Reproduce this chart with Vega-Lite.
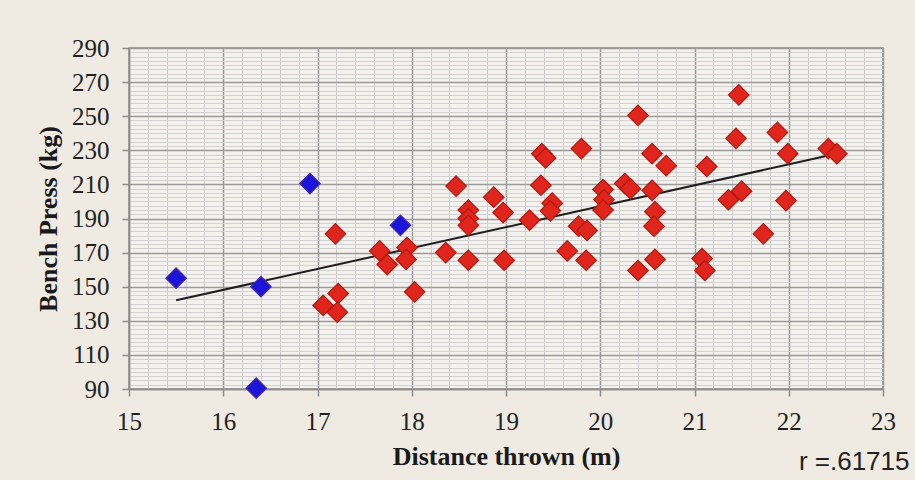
{
  "$schema": "https://vega.github.io/schema/vega-lite/v6.json",
  "width": 754,
  "height": 341,
  "autosize": {"type": "none"},
  "padding": {"left": 129, "top": 48, "right": 32, "bottom": 91},
  "background": "#efebe3",
  "title": {
    "text": "r =.61715",
    "orient": "bottom",
    "anchor": "end",
    "font": "Liberation Sans",
    "fontSize": 26,
    "fontWeight": "normal",
    "color": "#222222",
    "offset": -20,
    "dx": 14
  },
  "datasets": {
    "athletes": [
      {"distance": 15.5, "bench": 155, "group": "blue"},
      {"distance": 16.4, "bench": 150, "group": "blue"},
      {"distance": 16.35, "bench": 90.5, "group": "blue"},
      {"distance": 16.92, "bench": 210.5, "group": "blue"},
      {"distance": 17.88, "bench": 186, "group": "blue"},
      {"distance": 17.19, "bench": 181, "group": "red"},
      {"distance": 17.06, "bench": 139, "group": "red"},
      {"distance": 17.22, "bench": 146, "group": "red"},
      {"distance": 17.21, "bench": 135, "group": "red"},
      {"distance": 17.66, "bench": 171, "group": "red"},
      {"distance": 17.74, "bench": 163, "group": "red"},
      {"distance": 17.95, "bench": 173, "group": "red"},
      {"distance": 17.94, "bench": 166, "group": "red"},
      {"distance": 18.03, "bench": 147, "group": "red"},
      {"distance": 18.36, "bench": 170, "group": "red"},
      {"distance": 18.47, "bench": 209, "group": "red"},
      {"distance": 18.6, "bench": 195, "group": "red"},
      {"distance": 18.6, "bench": 190, "group": "red"},
      {"distance": 18.6, "bench": 186, "group": "red"},
      {"distance": 18.6, "bench": 165.5, "group": "red"},
      {"distance": 18.87, "bench": 202.5, "group": "red"},
      {"distance": 18.97, "bench": 193.5, "group": "red"},
      {"distance": 18.98, "bench": 165.5, "group": "red"},
      {"distance": 19.25, "bench": 189, "group": "red"},
      {"distance": 19.38, "bench": 228, "group": "red"},
      {"distance": 19.42, "bench": 225.5, "group": "red"},
      {"distance": 19.37, "bench": 209.5, "group": "red"},
      {"distance": 19.49, "bench": 199, "group": "red"},
      {"distance": 19.47, "bench": 194.5, "group": "red"},
      {"distance": 19.65, "bench": 171, "group": "red"},
      {"distance": 19.8, "bench": 231, "group": "red"},
      {"distance": 19.77, "bench": 185.5, "group": "red"},
      {"distance": 19.86, "bench": 183, "group": "red"},
      {"distance": 19.85, "bench": 165.5, "group": "red"},
      {"distance": 20.03, "bench": 207, "group": "red"},
      {"distance": 20.04, "bench": 201, "group": "red"},
      {"distance": 20.03, "bench": 195, "group": "red"},
      {"distance": 20.26, "bench": 210.5, "group": "red"},
      {"distance": 20.32, "bench": 207.5, "group": "red"},
      {"distance": 20.4, "bench": 250.5, "group": "red"},
      {"distance": 20.4, "bench": 159.5, "group": "red"},
      {"distance": 20.55, "bench": 228, "group": "red"},
      {"distance": 20.7, "bench": 221, "group": "red"},
      {"distance": 20.55, "bench": 206.5, "group": "red"},
      {"distance": 20.58, "bench": 194, "group": "red"},
      {"distance": 20.57, "bench": 185.5, "group": "red"},
      {"distance": 20.58, "bench": 166, "group": "red"},
      {"distance": 21.08, "bench": 166.5, "group": "red"},
      {"distance": 21.11, "bench": 159.5, "group": "red"},
      {"distance": 21.13, "bench": 220.5, "group": "red"},
      {"distance": 21.36, "bench": 201, "group": "red"},
      {"distance": 21.5, "bench": 206, "group": "red"},
      {"distance": 21.44, "bench": 237, "group": "red"},
      {"distance": 21.47, "bench": 262.5, "group": "red"},
      {"distance": 21.73, "bench": 181, "group": "red"},
      {"distance": 21.88, "bench": 240.5, "group": "red"},
      {"distance": 21.99, "bench": 228, "group": "red"},
      {"distance": 21.97, "bench": 200.5, "group": "red"},
      {"distance": 22.42, "bench": 231, "group": "red"},
      {"distance": 22.51, "bench": 228, "group": "red"}
    ],
    "trend": [
      {"distance": 15.5, "bench": 142},
      {"distance": 22.47, "bench": 227.5}
    ]
  },
  "encoding": {
    "x": {
      "field": "distance",
      "type": "quantitative",
      "scale": {"domain": [15, 23], "nice": false, "zero": false},
      "axis": {
        "title": "Distance thrown (m)",
        "values": [15,15.2,15.4,15.6,15.8,16,16.2,16.4,16.6,16.8,17,17.2,17.4,17.6,17.8,18,18.2,18.4,18.6,18.8,19,19.2,19.4,19.6,19.8,20,20.2,20.4,20.6,20.8,21,21.2,21.4,21.6,21.8,22,22.2,22.4,22.6,22.8,23],
        "grid": true,
        "gridColor": {"condition": {"test": "abs(datum.value - round(datum.value)) < 0.01", "value": "#9a9a9a"}, "value": "#cdcdcd"},
        "gridWidth": {"condition": {"test": "abs(datum.value - round(datum.value)) < 0.01", "value": 1.5}, "value": 1},
        "tickOpacity": {"condition": {"test": "abs(datum.value - round(datum.value)) < 0.01", "value": 1}, "value": 0},
        "labelExpr": "abs(datum.value - round(datum.value)) < 0.01 ? '' + round(datum.value) : ''",
        "labelOverlap": false,
        "labelFlush": false,
        "tickSize": 7,
        "labelPadding": 13,
        "titlePadding": 9
      }
    },
    "y": {
      "field": "bench",
      "type": "quantitative",
      "scale": {"domain": [90, 290], "nice": false, "zero": false},
      "axis": {
        "title": "Bench Press (kg)",
        "values": [90,92.5,95,97.5,100,102.5,105,107.5,110,112.5,115,117.5,120,122.5,125,127.5,130,132.5,135,137.5,140,142.5,145,147.5,150,152.5,155,157.5,160,162.5,165,167.5,170,172.5,175,177.5,180,182.5,185,187.5,190,192.5,195,197.5,200,202.5,205,207.5,210,212.5,215,217.5,220,222.5,225,227.5,230,232.5,235,237.5,240,242.5,245,247.5,250,252.5,255,257.5,260,262.5,265,267.5,270,272.5,275,277.5,280,282.5,285,287.5,290],
        "grid": true,
        "gridColor": {"condition": {"test": "datum.value % 20 == 10", "value": "#9a9a9a"}, "value": "#d2d2d2"},
        "gridWidth": {"condition": {"test": "datum.value % 20 == 10", "value": 1.5}, "value": 1},
        "tickOpacity": {"condition": {"test": "datum.value % 20 == 10", "value": 1}, "value": 0},
        "labelExpr": "datum.value % 20 == 10 ? '' + datum.value : ''",
        "labelOverlap": false,
        "labelFlush": false,
        "tickSize": 7,
        "labelPadding": 13,
        "titlePadding": 10
      }
    }
  },
  "layer": [
    {
      "data": {"name": "trend"},
      "mark": {"type": "line", "color": "#1e1e1e", "strokeWidth": 2}
    },
    {
      "data": {"name": "athletes"},
      "mark": {"type": "point", "shape": "diamond", "filled": true, "size": 420, "opacity": 1, "strokeWidth": 1.2},
      "encoding": {
        "color": {
          "field": "group",
          "type": "nominal",
          "scale": {"domain": ["red", "blue"], "range": ["#e0261c", "#1c14d8"]},
          "legend": null
        },
        "stroke": {
          "field": "group",
          "type": "nominal",
          "scale": {"domain": ["red", "blue"], "range": ["#b0180f", "#4a2aa0"]},
          "legend": null
        }
      }
    }
  ],
  "config": {
    "view": {"fill": "#f3f2ee", "stroke": "#8c8c8c", "strokeWidth": 1.5},
    "axis": {
      "labelFont": "Liberation Serif",
      "labelFontSize": 25,
      "labelColor": "#222222",
      "labelOverlap": false,
      "titleFont": "Liberation Serif",
      "titleFontSize": 26,
      "titleFontWeight": "bold",
      "titleColor": "#1a1a1a",
      "domainColor": "#8c8c8c",
      "domainWidth": 1.5,
      "tickColor": "#8c8c8c",
      "tickWidth": 1.5
    }
  }
}
